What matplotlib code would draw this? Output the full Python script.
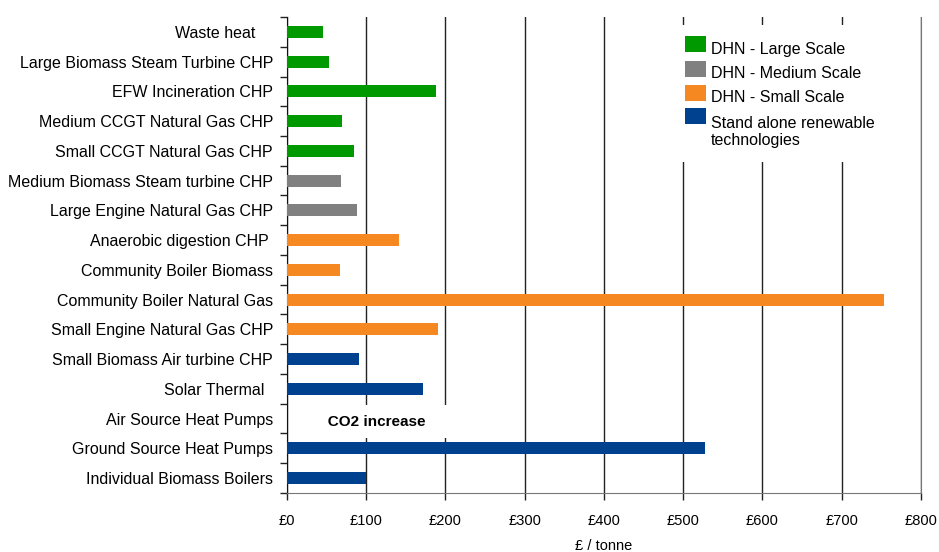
import matplotlib.pyplot as plt
from matplotlib.patches import Rectangle

plt.rcParams['font.family'] = ['Liberation Sans', 'DejaVu Sans']

# categories (top to bottom)
labels = ['Waste heat    ', 'Large Biomass Steam Turbine CHP', 'EFW Incineration CHP',
          'Medium CCGT Natural Gas CHP', 'Small CCGT Natural Gas CHP',
          'Medium Biomass Steam turbine CHP', 'Large Engine Natural Gas CHP',
          'Anaerobic digestion CHP ', 'Community Boiler Biomass', 'Community Boiler Natural Gas',
          'Small Engine Natural Gas CHP', 'Small Biomass Air turbine CHP', 'Solar Thermal  ',
          'Air Source Heat Pumps', 'Ground Source Heat Pumps', 'Individual Biomass Boilers']
# cost per tonne CO2 saved (GBP); None = CO2 increase
values = [46, 53, 188, 69, 84, 68, 88, 141, 67, 753, 191, 91, 172, None, 527, 100]
groups = [0, 0, 0, 0, 0, 1, 1, 2, 2, 2, 2, 3, 3, 3, 3, 3]

group_names = ['DHN - Large Scale', 'DHN - Medium Scale', 'DHN - Small Scale',
               'Stand alone renewable\ntechnologies']
group_colors = ['#009900', '#808080', '#f68822', '#00418f']

xticks = [0, 100, 200, 300, 400, 500, 600, 700, 800]

fig = plt.figure(figsize=(9.39, 5.52), dpi=100)
ax = fig.add_axes([0.3056, 0.1069, 0.6752, 0.8623])

n = len(labels)
ypos = [n - 1 - i for i in range(n)]
for y, v, g in zip(ypos, values, groups):
    if v is None:
        continue
    ax.barh(y, v, height=0.41, color=group_colors[g], zorder=3)

ax.set_xlim(0, 800)
ax.set_ylim(-0.5, n - 0.5)
ax.set_xticks(xticks)
ax.set_xticklabels(['£%d' % t for t in xticks], fontsize=10.5)
ax.set_yticks(ypos)
ax.set_yticklabels(labels, fontsize=11.5)
ax.tick_params(axis='y', length=0, pad=10)
ax.set_yticks([i - 0.5 for i in range(n + 1)], minor=True)
ax.tick_params(axis='y', which='minor', length=5, width=1, color='#222222')
ax.tick_params(axis='x', length=5, width=1, color='#222222', pad=10)
ax.set_xlabel('£ / tonne', fontsize=10.5, labelpad=8)

ax.grid(axis='x', color='#222222', lw=1, zorder=1)
ax.spines['top'].set_visible(False)
ax.spines['right'].set_color('#777777')
ax.spines['bottom'].set_color('#777777')
ax.spines['left'].set_color('#111111')

# white legend box covering the grid
ax.add_patch(Rectangle((0.604, 0.695), 0.38, 0.288, transform=ax.transAxes,
                       facecolor='white', edgecolor='none', zorder=2))
hand_y = [0.926, 0.874, 0.824, 0.775]
text_y = [0.922, 0.872, 0.821, 0.731]   # baseline of last line of each entry
for i, (name, col) in enumerate(zip(group_names, group_colors)):
    ax.add_patch(Rectangle((0.628, hand_y[i]), 0.033, 0.0336, transform=ax.transAxes,
                           facecolor=col, edgecolor='none', zorder=4))
    ax.text(0.669, text_y[i], name, transform=ax.transAxes, fontsize=11.5,
            va='baseline', ha='left', linespacing=1.15, zorder=4)

ax.text(113, ypos[13] - 0.1, '   CO2 increase   ', fontsize=11, fontweight='bold',
        ha='center', va='center', zorder=4,
        bbox=dict(facecolor='white', edgecolor='none', pad=7))

fig.savefig('out.png', dpi=100)
